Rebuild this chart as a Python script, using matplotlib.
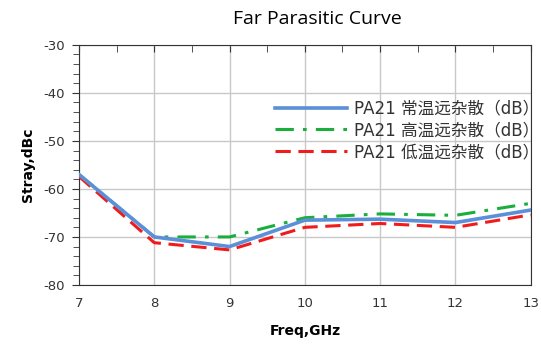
import numpy as np
import matplotlib.pyplot as plt
from matplotlib.ticker import MultipleLocator

plt.rcParams['axes.unicode_minus'] = False

# Daten
freq = [7, 8, 9, 10, 11, 12, 13]
normal = [-57, -70, -72, -66.5, -66.3, -67, -64.4]
high = [-57, -70, -70, -66, -65.2, -65.5, -63]
low = [-57.4, -71.2, -72.7, -68, -67.2, -68, -65.4]
labels = ['PA21 常温远杂散（dB）', 'PA21 高温远杂散（dB）', 'PA21 低温远杂散（dB）']

fig = plt.figure(figsize=(5.41, 3.45), dpi=100)
ax = fig.add_axes([0.146, 0.174, 0.835, 0.696])

ax.plot(freq, normal, color='#5b8fd8', lw=2.6, label=labels[0], zorder=4)
ax.plot(freq, high, color='#1aae3c', lw=2.2, dashes=(6, 3, 1.2, 3), label=labels[1], zorder=3)
ax.plot(freq, low, color='#f01c1c', lw=2.2, dashes=(5, 2.5), label=labels[2], zorder=3)

ax.set_xlim(7, 13)
ax.set_ylim(-80, -30)
ax.xaxis.set_major_locator(MultipleLocator(1))
ax.xaxis.set_minor_locator(MultipleLocator(0.5))
ax.yaxis.set_major_locator(MultipleLocator(10))
ax.yaxis.set_minor_locator(MultipleLocator(2))
ax.grid(True, which='major', color='#c8c8c8', lw=1)

# Achsen-Ticks
ax.tick_params(axis='y', which='both', labelsize=9.5, colors='#333333', direction='out')
ax.tick_params(axis='y', which='major', length=5, pad=5)
ax.tick_params(axis='y', which='minor', length=4)
ax.tick_params(axis='x', which='both', bottom=False, top=True, direction='in',
               length=5, color='#333333', labelsize=9.5, labelcolor='#333333', pad=9)
for s in ['left', 'bottom', 'right', 'top']:
    ax.spines[s].set_color('#333333')

ax.set_xlabel('Freq,GHz', fontweight='bold', fontsize=10, labelpad=10)
ax.set_ylabel('Stray,dBc', fontweight='bold', fontsize=10, labelpad=6)
fig.text(0.586, 0.93, 'Far Parasitic Curve', ha='center', fontsize=14, family='Open Sans')

leg = ax.legend(loc='upper right', bbox_to_anchor=(1.018, 0.772), frameon=False,
                borderpad=0, borderaxespad=0,
                handlelength=4.3, handletextpad=0.4, labelspacing=0.22,
                prop={'family': ['DejaVu Sans', 'Noto Sans CJK SC'], 'size': 12})
for t in leg.get_texts():
    t.set_color('#333333')

fig.savefig('out.png', dpi=100)
